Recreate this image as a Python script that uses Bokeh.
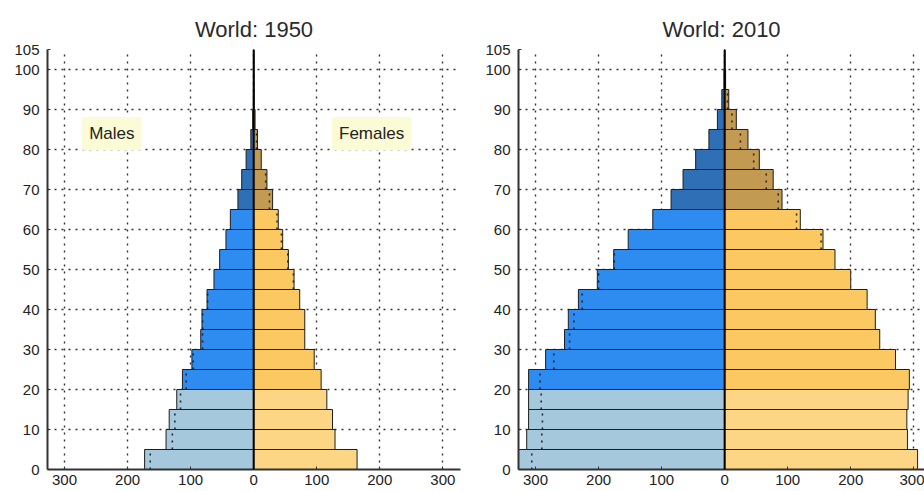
import numpy as np
from bokeh.plotting import figure
from bokeh.models import Range1d, FixedTicker, Span, Label, ColumnDataSource
from bokeh.layouts import row
from bokeh.embed import file_html
from bokeh.resources import INLINE

# ---- data (millions) ----
age_start = [0, 5, 10, 15, 20, 25, 30, 35, 40, 45, 50, 55, 60, 65, 70, 75, 80, 85, 90, 95, 100]
male_1950 = [173, 139, 134, 122, 113, 98, 84, 82, 74, 63, 54, 44, 37, 25, 19, 12, 4.5, 1.5, 0.4, 0.1, 0.0]
female_1950 = [164, 129, 125, 116, 107, 96, 81, 81, 73, 64, 55, 46, 39, 30, 21, 12, 6, 2.2, 0.7, 0.1, 0.0]
male_2010 = [334, 314, 311, 311, 311, 284, 254, 248, 232, 202, 176, 153, 114, 85, 66, 46, 25, 11.5, 4.5, 1.0, 0.1]
female_2010 = [306, 290, 289, 291, 293, 271, 246, 239, 226, 200, 175, 156, 120, 91, 77, 55, 37, 18.5, 6.5, 1.5, 0.2]

x_ticks = [-300, -200, -100, 0, 100, 200, 300]
x_tick_labels = ["300", "200", "100", "0", "100", "200", "300"]
y_ticks = [0, 10, 20, 30, 40, 50, 60, 70, 80, 90, 100, 105]

FONT = "Liberation Sans"
M_COLORS = ("#a6c8dc", "#2e8bef", "#2f6fb5")
F_COLORS = ("#fcd685", "#fcc862", "#c39a52")


def group_color(a, palette):
    if a < 20:
        return palette[0]
    if a < 65:
        return palette[1]
    return palette[2]


def make(title, males, females, x_end, width, lb, rb, labels):
    p = figure(width=width, height=490, x_range=Range1d(-327, x_end), y_range=Range1d(0, 105),
               output_backend="svg", toolbar_location=None,
               min_border_left=lb, min_border_right=rb, min_border_top=49, min_border_bottom=21)
    p.outline_line_color = None
    p.background_fill_color = "white"
    p.border_fill_color = "white"

    p.title.text = title
    p.title.align = "center"
    p.title.text_font = FONT
    p.title.text_font_size = "22px"
    p.title.text_font_style = "normal"
    p.title.text_color = "#2a2a2a"
    p.title.standoff = 16

    m = np.array(males, dtype=float)
    f = np.array(females, dtype=float)
    ages = np.array(age_start, dtype=float)
    src = ColumnDataSource(dict(
        y=ages + 2.5, ml=-m, fr=f,
        mc=[group_color(a, M_COLORS) for a in age_start],
        fc=[group_color(a, F_COLORS) for a in age_start],
    ))
    p.hbar(y="y", height=5, left="ml", right=0, fill_color="mc", line_color="#1e1e1e", line_width=1, source=src)
    p.hbar(y="y", height=5, left=0, right="fr", fill_color="fc", line_color="#1e1e1e", line_width=1, source=src)

    # dotted mark on the larger side at the size of the smaller side
    dx = np.where(m > f, -f, m)
    keep = (m != f) & (np.minimum(m, f) > 1.5)
    dsrc = ColumnDataSource(dict(x=dx[keep], y0=ages[keep], y1=ages[keep] + 5))
    p.segment(x0="x", y0="y0", x1="x", y1="y1", line_color="#1e1e1e", line_width=1.5,
              line_dash="2 5", source=dsrc)

    p.add_layout(Span(location=0, dimension="height", line_color="black", line_width=2))

    p.xaxis.ticker = FixedTicker(ticks=x_ticks)
    p.xaxis.major_label_overrides = {t: l for t, l in zip(x_ticks, x_tick_labels)}
    p.yaxis.ticker = FixedTicker(ticks=y_ticks)
    for ax in (p.xaxis, p.yaxis):
        ax.axis_line_color = "#333333"
        ax.axis_line_width = 2
        ax.major_tick_in = 3
        ax.major_tick_out = 0
        ax.major_tick_line_color = "#333333"
        ax.minor_tick_line_color = None
        ax.major_label_text_font = FONT
        ax.major_label_text_font_size = "15px"
        ax.major_label_text_color = "#222222"
    p.xaxis.major_label_standoff = 5
    p.yaxis.major_label_standoff = 8

    for g in (p.xgrid, p.ygrid):
        g.grid_line_color = "#333333"
        g.grid_line_width = 1.4
        g.grid_line_dash = "2 5"
    p.xgrid.ticker = FixedTicker(ticks=x_ticks)
    p.ygrid.ticker = FixedTicker(ticks=y_ticks)

    if labels:
        for txt, x in (("Males", -225), ("Females", 187)):
            p.add_layout(Label(x=x, y=84, text=txt, text_align="center", text_baseline="middle",
                               text_font=FONT, text_font_size="17px", text_color="#222222",
                               background_fill_color="#fbfbd6", padding=7))
    return p


p1 = make("World: 1950", male_1950, female_1950, 328, 476, 47, 16, True)
p2 = make("World: 2010", male_2010, female_2010, 317, 448, 42, 0, False)

layout = row(p1, p2)
open("out.html", "w").write(file_html(layout, INLINE))
